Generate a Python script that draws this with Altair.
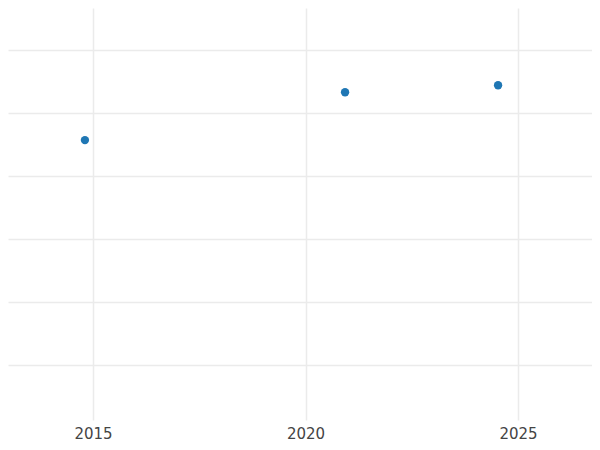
import altair as alt
import pandas as pd

years = [2014.81, 2020.93, 2024.53]
values = [4.57, 5.33, 5.44]
x_ticks = [2015, 2020, 2025]
y_ticks = [1, 2, 3, 4, 5, 6]

df = pd.DataFrame({"year": years, "value": values})

chart = alt.Chart(df).mark_circle(size=70, opacity=1, color="#1f77b4").encode(
    x=alt.X("year:Q",
            scale=alt.Scale(domain=[2013, 2026.74], nice=False, zero=False),
            axis=alt.Axis(values=x_ticks, format="d", title=None, domain=False,
                          ticks=False, labelPadding=6, labelFontSize=15,
                          labelFont="DejaVu Sans", labelColor="#444444",
                          gridColor="#ebebeb", gridWidth=1.5)),
    y=alt.Y("value:Q",
            scale=alt.Scale(domain=[0.127, 6.667], nice=False, zero=False),
            axis=alt.Axis(values=y_ticks, labels=False, title=None, domain=False,
                          ticks=False, gridColor="#ebebeb", gridWidth=1.5)),
).properties(
    width=584, height=412,
    background="white",
    autosize=alt.AutoSizeParams(type="none"),
    padding={"left": 0, "top": 0, "right": 0, "bottom": 22},
).configure_view(stroke="transparent", strokeWidth=0)

chart.save("out.html", embed_options={"renderer": "svg", "actions": False})
